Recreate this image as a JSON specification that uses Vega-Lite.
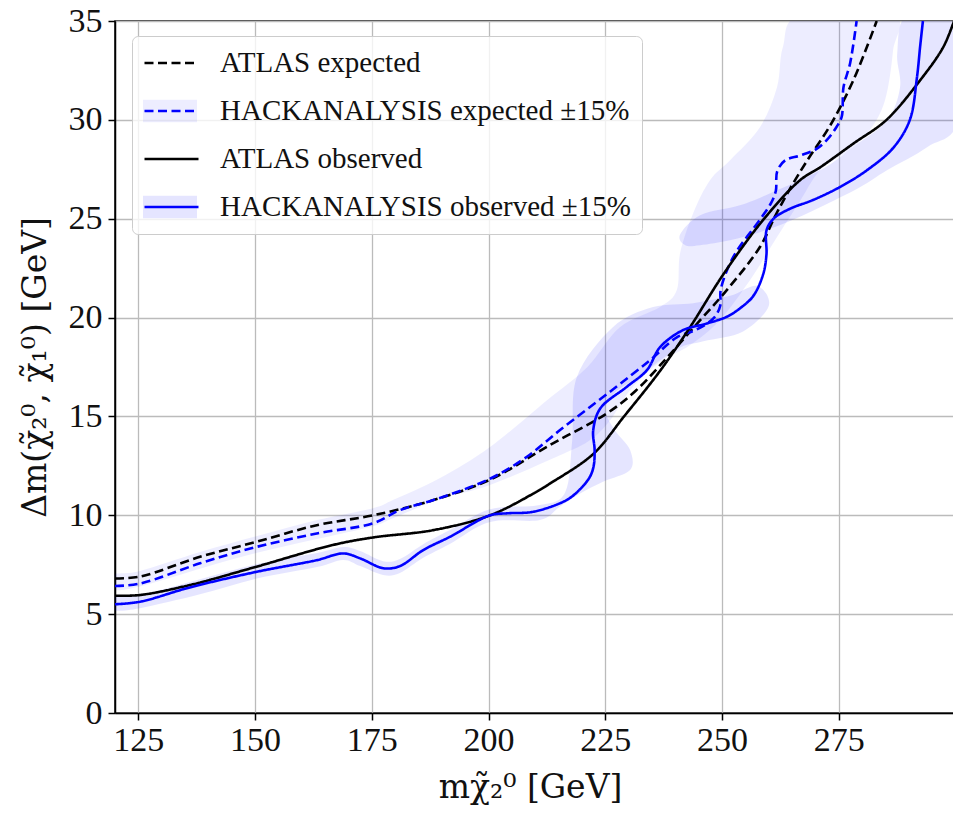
{
  "$schema": "https://vega.github.io/schema/vega-lite/v6.json",
  "width": 840,
  "height": 692,
  "autosize": "none",
  "padding": {"left": 115, "top": 21, "right": 0, "bottom": 110},
  "background": "white",
  "config": {
    "view": {"stroke": "#000", "strokeWidth": 1.5},
    "font": "Liberation Serif",
    "axis": {
      "grid": true, "gridColor": "#bbbbbb", "gridWidth": 1.3,
      "domainColor": "#000", "domainWidth": 1.5,
      "tickColor": "#000", "tickSize": 7, "tickWidth": 1.5,
      "labelFont": "Liberation Serif", "labelFontSize": 34, "labelColor": "#111",
      "titleFont": "DejaVu Serif", "titleFontSize": 33, "titleFontWeight": "normal", "titleColor": "#111",
      "labelFlush": false, "labelOverlap": false
    },
    "legend": {
      "orient": "none", "legendX": 17, "legendY": 15, "padding": 11,
      "labelFont": "Liberation Serif", "labelFontSize": 29, "labelColor": "#111",
      "labelOffset": 20, "rowPadding": 16, "clipHeight": 32, "symbolSize": 2916, "labelLimit": 700
    }
  },
  "datasets": {
    "lines": [
      {"s": "ATLAS expected", "i": 0, "x": 120, "y": 6.8},
      {"s": "ATLAS expected", "i": 1, "x": 125.4, "y": 6.9},
      {"s": "ATLAS expected", "i": 2, "x": 138.2, "y": 7.9},
      {"s": "ATLAS expected", "i": 3, "x": 150.3, "y": 8.66},
      {"s": "ATLAS expected", "i": 4, "x": 163.2, "y": 9.5},
      {"s": "ATLAS expected", "i": 5, "x": 175.3, "y": 10.0},
      {"s": "ATLAS expected", "i": 6, "x": 188.2, "y": 10.77},
      {"s": "ATLAS expected", "i": 7, "x": 200.3, "y": 11.8},
      {"s": "ATLAS expected", "i": 8, "x": 213.1, "y": 13.55},
      {"s": "ATLAS expected", "i": 9, "x": 225.3, "y": 15.15},
      {"s": "ATLAS expected", "i": 10, "x": 231.5, "y": 16.3},
      {"s": "ATLAS expected", "i": 11, "x": 238.5, "y": 18.05},
      {"s": "ATLAS expected", "i": 12, "x": 245.3, "y": 19.87},
      {"s": "ATLAS expected", "i": 13, "x": 251, "y": 21.39},
      {"s": "ATLAS expected", "i": 14, "x": 258.1, "y": 23.57},
      {"s": "ATLAS expected", "i": 15, "x": 261.5, "y": 25.2},
      {"s": "ATLAS expected", "i": 16, "x": 264.5, "y": 26.5},
      {"s": "ATLAS expected", "i": 17, "x": 268.1, "y": 27.9},
      {"s": "ATLAS expected", "i": 18, "x": 273.1, "y": 29.7},
      {"s": "ATLAS expected", "i": 19, "x": 278.1, "y": 32.0},
      {"s": "ATLAS expected", "i": 20, "x": 283.1, "y": 35.0},

      {"s": "HACKANALYSIS expected ±15%", "i": 0, "x": 120, "y": 6.42},
      {"s": "HACKANALYSIS expected ±15%", "i": 1, "x": 125.4, "y": 6.55},
      {"s": "HACKANALYSIS expected ±15%", "i": 2, "x": 138.2, "y": 7.57},
      {"s": "HACKANALYSIS expected ±15%", "i": 3, "x": 150.3, "y": 8.4},
      {"s": "HACKANALYSIS expected ±15%", "i": 4, "x": 163.2, "y": 9.08},
      {"s": "HACKANALYSIS expected ±15%", "i": 5, "x": 175.3, "y": 9.6},
      {"s": "HACKANALYSIS expected ±15%", "i": 6, "x": 181, "y": 10.26},
      {"s": "HACKANALYSIS expected ±15%", "i": 7, "x": 188.2, "y": 10.77},
      {"s": "HACKANALYSIS expected ±15%", "i": 8, "x": 200.3, "y": 11.85},
      {"s": "HACKANALYSIS expected ±15%", "i": 9, "x": 208.2, "y": 12.96},
      {"s": "HACKANALYSIS expected ±15%", "i": 10, "x": 215.3, "y": 14.31},
      {"s": "HACKANALYSIS expected ±15%", "i": 11, "x": 226, "y": 16.25},
      {"s": "HACKANALYSIS expected ±15%", "i": 12, "x": 234.6, "y": 17.85},
      {"s": "HACKANALYSIS expected ±15%", "i": 13, "x": 240.3, "y": 19.0},
      {"s": "HACKANALYSIS expected ±15%", "i": 14, "x": 244.6, "y": 19.4},
      {"s": "HACKANALYSIS expected ±15%", "i": 15, "x": 248.3, "y": 20.0},
      {"s": "HACKANALYSIS expected ±15%", "i": 16, "x": 249.6, "y": 20.6},
      {"s": "HACKANALYSIS expected ±15%", "i": 17, "x": 249.7, "y": 21.4},
      {"s": "HACKANALYSIS expected ±15%", "i": 18, "x": 252.4, "y": 23.07},
      {"s": "HACKANALYSIS expected ±15%", "i": 19, "x": 258.1, "y": 24.95},
      {"s": "HACKANALYSIS expected ±15%", "i": 20, "x": 260.5, "y": 25.8},
      {"s": "HACKANALYSIS expected ±15%", "i": 21, "x": 261.5, "y": 26.4},
      {"s": "HACKANALYSIS expected ±15%", "i": 22, "x": 261.8, "y": 27.4},
      {"s": "HACKANALYSIS expected ±15%", "i": 23, "x": 263.5, "y": 27.95},
      {"s": "HACKANALYSIS expected ±15%", "i": 24, "x": 266.7, "y": 28.2},
      {"s": "HACKANALYSIS expected ±15%", "i": 25, "x": 270, "y": 28.5},
      {"s": "HACKANALYSIS expected ±15%", "i": 26, "x": 272.4, "y": 28.97},
      {"s": "HACKANALYSIS expected ±15%", "i": 27, "x": 274.5, "y": 29.64},
      {"s": "HACKANALYSIS expected ±15%", "i": 28, "x": 275.6, "y": 30.15},
      {"s": "HACKANALYSIS expected ±15%", "i": 29, "x": 276, "y": 31.66},
      {"s": "HACKANALYSIS expected ±15%", "i": 30, "x": 277.4, "y": 32.85},
      {"s": "HACKANALYSIS expected ±15%", "i": 31, "x": 278.8, "y": 35.0},

      {"s": "ATLAS observed", "i": 0, "x": 120, "y": 5.93},
      {"s": "ATLAS observed", "i": 1, "x": 125.4, "y": 5.97},
      {"s": "ATLAS observed", "i": 2, "x": 136, "y": 6.47},
      {"s": "ATLAS observed", "i": 3, "x": 150.3, "y": 7.4},
      {"s": "ATLAS observed", "i": 4, "x": 166.7, "y": 8.5},
      {"s": "ATLAS observed", "i": 5, "x": 175.3, "y": 8.88},
      {"s": "ATLAS observed", "i": 6, "x": 188.2, "y": 9.25},
      {"s": "ATLAS observed", "i": 7, "x": 200.3, "y": 10.0},
      {"s": "ATLAS observed", "i": 8, "x": 209.6, "y": 11.1},
      {"s": "ATLAS observed", "i": 9, "x": 213.1, "y": 11.6},
      {"s": "ATLAS observed", "i": 10, "x": 222.4, "y": 13.1},
      {"s": "ATLAS observed", "i": 11, "x": 229, "y": 15.0},
      {"s": "ATLAS observed", "i": 12, "x": 236.7, "y": 17.3},
      {"s": "ATLAS observed", "i": 13, "x": 243.1, "y": 19.5},
      {"s": "ATLAS observed", "i": 14, "x": 250.3, "y": 22.2},
      {"s": "ATLAS observed", "i": 15, "x": 259, "y": 25.0},
      {"s": "ATLAS observed", "i": 16, "x": 266.7, "y": 26.95},
      {"s": "ATLAS observed", "i": 17, "x": 271, "y": 27.6},
      {"s": "ATLAS observed", "i": 18, "x": 278.1, "y": 28.8},
      {"s": "ATLAS observed", "i": 19, "x": 285.2, "y": 30.0},
      {"s": "ATLAS observed", "i": 20, "x": 292.4, "y": 32.0},
      {"s": "ATLAS observed", "i": 21, "x": 297.4, "y": 33.7},
      {"s": "ATLAS observed", "i": 22, "x": 299.8, "y": 35.1},

      {"s": "HACKANALYSIS observed ±15%", "i": 0, "x": 120, "y": 5.5},
      {"s": "HACKANALYSIS observed ±15%", "i": 1, "x": 125.4, "y": 5.63},
      {"s": "HACKANALYSIS observed ±15%", "i": 2, "x": 136, "y": 6.35},
      {"s": "HACKANALYSIS observed ±15%", "i": 3, "x": 150.3, "y": 7.14},
      {"s": "HACKANALYSIS observed ±15%", "i": 4, "x": 163.2, "y": 7.73},
      {"s": "HACKANALYSIS observed ±15%", "i": 5, "x": 168.9, "y": 8.07},
      {"s": "HACKANALYSIS observed ±15%", "i": 6, "x": 172.5, "y": 7.82},
      {"s": "HACKANALYSIS observed ±15%", "i": 7, "x": 177.5, "y": 7.32},
      {"s": "HACKANALYSIS observed ±15%", "i": 8, "x": 181, "y": 7.43},
      {"s": "HACKANALYSIS observed ±15%", "i": 9, "x": 186, "y": 8.24},
      {"s": "HACKANALYSIS observed ±15%", "i": 10, "x": 191.7, "y": 8.91},
      {"s": "HACKANALYSIS observed ±15%", "i": 11, "x": 200.3, "y": 10.0},
      {"s": "HACKANALYSIS observed ±15%", "i": 12, "x": 204, "y": 10.1},
      {"s": "HACKANALYSIS observed ±15%", "i": 13, "x": 209.6, "y": 10.18},
      {"s": "HACKANALYSIS observed ±15%", "i": 14, "x": 216.7, "y": 10.77},
      {"s": "HACKANALYSIS observed ±15%", "i": 15, "x": 219.5, "y": 11.3},
      {"s": "HACKANALYSIS observed ±15%", "i": 16, "x": 221.7, "y": 11.95},
      {"s": "HACKANALYSIS observed ±15%", "i": 17, "x": 222.5, "y": 12.5},
      {"s": "HACKANALYSIS observed ±15%", "i": 18, "x": 222.7, "y": 13.3},
      {"s": "HACKANALYSIS observed ±15%", "i": 19, "x": 222.4, "y": 14.3},
      {"s": "HACKANALYSIS observed ±15%", "i": 20, "x": 223.9, "y": 15.4},
      {"s": "HACKANALYSIS observed ±15%", "i": 21, "x": 229.6, "y": 16.5},
      {"s": "HACKANALYSIS observed ±15%", "i": 22, "x": 233.9, "y": 17.34},
      {"s": "HACKANALYSIS observed ±15%", "i": 23, "x": 236.7, "y": 18.5},
      {"s": "HACKANALYSIS observed ±15%", "i": 24, "x": 241.5, "y": 19.35},
      {"s": "HACKANALYSIS observed ±15%", "i": 25, "x": 246.7, "y": 19.7},
      {"s": "HACKANALYSIS observed ±15%", "i": 26, "x": 251, "y": 20.04},
      {"s": "HACKANALYSIS observed ±15%", "i": 27, "x": 254, "y": 20.5},
      {"s": "HACKANALYSIS observed ±15%", "i": 28, "x": 256.7, "y": 21.1},
      {"s": "HACKANALYSIS observed ±15%", "i": 29, "x": 258.8, "y": 22.2},
      {"s": "HACKANALYSIS observed ±15%", "i": 30, "x": 259.5, "y": 23.2},
      {"s": "HACKANALYSIS observed ±15%", "i": 31, "x": 259.5, "y": 24.4},
      {"s": "HACKANALYSIS observed ±15%", "i": 32, "x": 261, "y": 25.0},
      {"s": "HACKANALYSIS observed ±15%", "i": 33, "x": 264.5, "y": 25.5},
      {"s": "HACKANALYSIS observed ±15%", "i": 34, "x": 269.5, "y": 25.95},
      {"s": "HACKANALYSIS observed ±15%", "i": 35, "x": 275.2, "y": 26.6},
      {"s": "HACKANALYSIS observed ±15%", "i": 36, "x": 281, "y": 27.45},
      {"s": "HACKANALYSIS observed ±15%", "i": 37, "x": 286.7, "y": 28.6},
      {"s": "HACKANALYSIS observed ±15%", "i": 38, "x": 290.2, "y": 30.0},
      {"s": "HACKANALYSIS observed ±15%", "i": 39, "x": 291.7, "y": 32.1},
      {"s": "HACKANALYSIS observed ±15%", "i": 40, "x": 292.4, "y": 33.7},
      {"s": "HACKANALYSIS observed ±15%", "i": 41, "x": 293, "y": 35.0}
    ],
    "bandE": [
      {"b": "E", "p": "e", "i": 0, "x": 119.5, "y": 6.98},
      {"b": "E", "p": "e", "i": 1, "x": 125.35, "y": 7.18},
      {"b": "E", "p": "e", "i": 2, "x": 138.2, "y": 8.14},
      {"b": "E", "p": "e", "i": 3, "x": 150.4, "y": 8.95},
      {"b": "E", "p": "e", "i": 4, "x": 163.25, "y": 9.76},
      {"b": "E", "p": "e", "i": 5, "x": 175.25, "y": 10.36},
      {"b": "E", "p": "e", "i": 6, "x": 179.5, "y": 10.77},
      {"b": "E", "p": "e", "i": 7, "x": 189.6, "y": 11.88},
      {"b": "E", "p": "e", "i": 8, "x": 200.3, "y": 13.45},
      {"b": "E", "p": "e", "i": 9, "x": 212.5, "y": 15.82},
      {"b": "E", "p": "e", "i": 10, "x": 221.1, "y": 17.49},
      {"b": "E", "p": "e", "i": 11, "x": 228.1, "y": 19.51},
      {"b": "E", "p": "e", "i": 12, "x": 236.7, "y": 20.53},
      {"b": "E", "p": "e", "i": 13, "x": 240.3, "y": 21.39},
      {"b": "E", "p": "e", "i": 14, "x": 241.0, "y": 23.26},
      {"b": "E", "p": "e", "i": 15, "x": 243.8, "y": 25.28},
      {"b": "E", "p": "e", "i": 16, "x": 247.4, "y": 26.95},
      {"b": "E", "p": "e", "i": 17, "x": 251.7, "y": 27.96},
      {"b": "E", "p": "e", "i": 18, "x": 258.1, "y": 29.63},
      {"b": "E", "p": "e", "i": 19, "x": 261.75, "y": 31.65},
      {"b": "E", "p": "e", "i": 20, "x": 263.0, "y": 33.67},
      {"b": "E", "p": "e", "i": 21, "x": 266.7, "y": 35.3},
      {"b": "E", "p": "e", "i": 22, "x": 286.6, "y": 35.3},
      {"b": "E", "p": "e", "i": 23, "x": 286.6, "y": 33.5},
      {"b": "E", "p": "e", "i": 24, "x": 284.9, "y": 31.0},
      {"b": "E", "p": "e", "i": 25, "x": 281.7, "y": 29.5},
      {"b": "E", "p": "e", "i": 26, "x": 277.4, "y": 28.5},
      {"b": "E", "p": "e", "i": 27, "x": 271.0, "y": 27.45},
      {"b": "E", "p": "e", "i": 28, "x": 266.7, "y": 25.9},
      {"b": "E", "p": "e", "i": 29, "x": 261.3, "y": 23.9},
      {"b": "E", "p": "e", "i": 30, "x": 256.0, "y": 21.9},
      {"b": "E", "p": "e", "i": 31, "x": 249.5, "y": 19.87},
      {"b": "E", "p": "e", "i": 32, "x": 243.1, "y": 18.6},
      {"b": "E", "p": "e", "i": 33, "x": 236.7, "y": 17.75},
      {"b": "E", "p": "e", "i": 34, "x": 230.3, "y": 16.33},
      {"b": "E", "p": "e", "i": 35, "x": 226.0, "y": 14.8},
      {"b": "E", "p": "e", "i": 36, "x": 221.7, "y": 13.8},
      {"b": "E", "p": "e", "i": 37, "x": 215.3, "y": 13.04},
      {"b": "E", "p": "e", "i": 38, "x": 200.3, "y": 11.53},
      {"b": "E", "p": "e", "i": 39, "x": 189.6, "y": 10.82},
      {"b": "E", "p": "e", "i": 40, "x": 179.5, "y": 9.85},
      {"b": "E", "p": "e", "i": 41, "x": 175.25, "y": 9.45},
      {"b": "E", "p": "e", "i": 42, "x": 163.25, "y": 8.8},
      {"b": "E", "p": "e", "i": 43, "x": 150.4, "y": 8.1},
      {"b": "E", "p": "e", "i": 44, "x": 138.2, "y": 7.3},
      {"b": "E", "p": "e", "i": 45, "x": 125.35, "y": 6.4},
      {"b": "E", "p": "e", "i": 46, "x": 119.5, "y": 6.25}
    ],
    "bandO": [
      {"b": "O", "p": "o1", "i": 0, "x": 119.5, "y": 5.81},
      {"b": "O", "p": "o1", "i": 1, "x": 125.35, "y": 5.97},
      {"b": "O", "p": "o1", "i": 2, "x": 138.2, "y": 6.77},
      {"b": "O", "p": "o1", "i": 3, "x": 150.4, "y": 7.53},
      {"b": "O", "p": "o1", "i": 4, "x": 163.25, "y": 8.09},
      {"b": "O", "p": "o1", "i": 5, "x": 168.8, "y": 8.39},
      {"b": "O", "p": "o1", "i": 6, "x": 172.5, "y": 8.19},
      {"b": "O", "p": "o1", "i": 7, "x": 177.4, "y": 7.68},
      {"b": "O", "p": "o1", "i": 8, "x": 181.0, "y": 7.79},
      {"b": "O", "p": "o1", "i": 9, "x": 186.0, "y": 8.54},
      {"b": "O", "p": "o1", "i": 10, "x": 191.7, "y": 9.25},
      {"b": "O", "p": "o1", "i": 11, "x": 200.3, "y": 10.31},
      {"b": "O", "p": "o1", "i": 12, "x": 211.0, "y": 10.52},
      {"b": "O", "p": "o1", "i": 13, "x": 216.4, "y": 11.17},
      {"b": "O", "p": "o1", "i": 14, "x": 217.9, "y": 13.8},
      {"b": "O", "p": "o1", "i": 15, "x": 218.9, "y": 16.99},
      {"b": "O", "p": "o1", "i": 16, "x": 226.6, "y": 19.51},
      {"b": "O", "p": "o1", "i": 17, "x": 235.2, "y": 20.53},
      {"b": "O", "p": "o1", "i": 18, "x": 243.8, "y": 20.73},
      {"b": "O", "p": "o1", "i": 19, "x": 251.7, "y": 21.1},
      {"b": "O", "p": "o1", "i": 20, "x": 257.5, "y": 21.6},
      {"b": "O", "p": "o1", "i": 21, "x": 260.0, "y": 20.6},
      {"b": "O", "p": "o1", "i": 22, "x": 254.5, "y": 19.3},
      {"b": "O", "p": "o1", "i": 23, "x": 246.0, "y": 18.8},
      {"b": "O", "p": "o1", "i": 24, "x": 240.3, "y": 18.4},
      {"b": "O", "p": "o1", "i": 25, "x": 232.0, "y": 17.0},
      {"b": "O", "p": "o1", "i": 26, "x": 227.0, "y": 16.2},
      {"b": "O", "p": "o1", "i": 27, "x": 225.0, "y": 15.32},
      {"b": "O", "p": "o1", "i": 28, "x": 227.0, "y": 14.31},
      {"b": "O", "p": "o1", "i": 29, "x": 230.3, "y": 13.3},
      {"b": "O", "p": "o1", "i": 30, "x": 230.3, "y": 12.29},
      {"b": "O", "p": "o1", "i": 31, "x": 224.5, "y": 11.7},
      {"b": "O", "p": "o1", "i": 32, "x": 219.6, "y": 11.1},
      {"b": "O", "p": "o1", "i": 33, "x": 215.3, "y": 10.45},
      {"b": "O", "p": "o1", "i": 34, "x": 211.0, "y": 9.76},
      {"b": "O", "p": "o1", "i": 35, "x": 200.3, "y": 9.66},
      {"b": "O", "p": "o1", "i": 36, "x": 191.7, "y": 8.55},
      {"b": "O", "p": "o1", "i": 37, "x": 186.0, "y": 7.85},
      {"b": "O", "p": "o1", "i": 38, "x": 181.0, "y": 7.08},
      {"b": "O", "p": "o1", "i": 39, "x": 177.4, "y": 6.98},
      {"b": "O", "p": "o1", "i": 40, "x": 172.5, "y": 7.43},
      {"b": "O", "p": "o1", "i": 41, "x": 168.8, "y": 7.74},
      {"b": "O", "p": "o1", "i": 42, "x": 163.25, "y": 7.38},
      {"b": "O", "p": "o1", "i": 43, "x": 150.4, "y": 6.8},
      {"b": "O", "p": "o1", "i": 44, "x": 138.2, "y": 6.0},
      {"b": "O", "p": "o1", "i": 45, "x": 125.35, "y": 5.3},
      {"b": "O", "p": "o1", "i": 46, "x": 119.5, "y": 5.21},
      {"b": "O", "p": "o2", "i": 0, "x": 241.0, "y": 24.2},
      {"b": "O", "p": "o2", "i": 1, "x": 245.3, "y": 25.18},
      {"b": "O", "p": "o2", "i": 2, "x": 253.8, "y": 25.68},
      {"b": "O", "p": "o2", "i": 3, "x": 260.3, "y": 26.29},
      {"b": "O", "p": "o2", "i": 4, "x": 271.0, "y": 27.45},
      {"b": "O", "p": "o2", "i": 5, "x": 278.0, "y": 28.62},
      {"b": "O", "p": "o2", "i": 6, "x": 285.3, "y": 29.98},
      {"b": "O", "p": "o2", "i": 7, "x": 288.1, "y": 31.65},
      {"b": "O", "p": "o2", "i": 8, "x": 287.5, "y": 33.37},
      {"b": "O", "p": "o2", "i": 9, "x": 289.6, "y": 35.3},
      {"b": "O", "p": "o2", "i": 10, "x": 300.5, "y": 35.3},
      {"b": "O", "p": "o2", "i": 11, "x": 300.5, "y": 29.98},
      {"b": "O", "p": "o2", "i": 12, "x": 293.9, "y": 28.62},
      {"b": "O", "p": "o2", "i": 13, "x": 285.3, "y": 27.45},
      {"b": "O", "p": "o2", "i": 14, "x": 279.5, "y": 26.59},
      {"b": "O", "p": "o2", "i": 15, "x": 271.0, "y": 25.58},
      {"b": "O", "p": "o2", "i": 16, "x": 263.9, "y": 24.82},
      {"b": "O", "p": "o2", "i": 17, "x": 258.1, "y": 24.32},
      {"b": "O", "p": "o2", "i": 18, "x": 251.7, "y": 23.91},
      {"b": "O", "p": "o2", "i": 19, "x": 245.3, "y": 23.66},
      {"b": "O", "p": "o2", "i": 20, "x": 242.1, "y": 23.66}
    ]
  },
  "layer": [
    {
      "data": {"name": "bandE"},
      "mark": {"type": "line", "interpolate": "cardinal-closed", "stroke": "transparent", "strokeWidth": 0, "clip": true},
      "encoding": {
        "x": {"field": "x", "type": "quantitative",
          "scale": {"domain": [120, 299.87], "nice": false, "zero": false},
          "axis": {"values": [125, 150, 175, 200, 225, 250, 275], "title": "mχ̃₂⁰ [GeV]",
            "labelPadding": 3, "titleX": 415, "titleY": 74, "titleAlign": "center", "titleBaseline": "middle"}},
        "y": {"field": "y", "type": "quantitative",
          "scale": {"domain": [0, 35], "nice": false, "zero": false},
          "axis": {"values": [0, 5, 10, 15, 20, 25, 30, 35], "title": "Δm(χ̃₂⁰, χ̃₁⁰) [GeV]",
            "labelPadding": 6, "titleAngle": -90, "titleX": -80, "titleY": 346, "titleAlign": "center", "titleBaseline": "middle"}},
        "order": {"field": "i", "type": "quantitative"},
        "detail": {"field": "p", "type": "nominal"},
        "fill": {"field": "b", "type": "nominal",
          "scale": {"domain": ["A", "E", "B", "O"],
            "range": ["rgba(0,0,0,0)", "rgba(0,0,255,0.07)", "rgba(0,0,0,0)", "rgba(0,0,255,0.10)"]},
          "legend": {"title": null, "symbolType": "M-1,-0.42H1V0.42H-1Z", "symbolStrokeWidth": 0, "symbolStrokeColor": "transparent",
            "labelExpr": "' '", "zindex": 2}}
      }
    },
    {
      "data": {"name": "bandO"},
      "mark": {"type": "line", "interpolate": "cardinal-closed", "stroke": "transparent", "strokeWidth": 0, "clip": true},
      "encoding": {
        "x": {"field": "x", "type": "quantitative"},
        "y": {"field": "y", "type": "quantitative"},
        "order": {"field": "i", "type": "quantitative"},
        "detail": {"field": "p", "type": "nominal"},
        "fill": {"field": "b", "type": "nominal"}
      }
    },
    {
      "data": {"name": "lines"},
      "mark": {"type": "line", "interpolate": "catmull-rom", "strokeWidth": 2.6, "clip": true},
      "encoding": {
        "x": {"field": "x", "type": "quantitative"},
        "y": {"field": "y", "type": "quantitative"},
        "order": {"field": "i", "type": "quantitative"},
        "stroke": {"field": "s", "type": "nominal",
          "scale": {"domain": ["ATLAS expected", "HACKANALYSIS expected ±15%", "ATLAS observed", "HACKANALYSIS observed ±15%"],
            "range": ["#000000", "#0000ff", "#000000", "#0000ff"]},
          "legend": {"title": null, "symbolType": "stroke", "symbolStrokeWidth": 2.6, "fillColor": "rgba(255,255,255,0.8)", "strokeColor": "#cccccc", "cornerRadius": 6, "zindex": 1}},
        "strokeDash": {"field": "s", "type": "nominal",
          "scale": {"domain": ["ATLAS expected", "HACKANALYSIS expected ±15%", "ATLAS observed", "HACKANALYSIS observed ±15%"],
            "range": [[9, 4.5], [9, 4.5], [1, 0], [1, 0]]},
          "legend": {"title": null, "symbolType": "stroke", "symbolStrokeWidth": 2.6, "fillColor": "rgba(255,255,255,0.8)", "strokeColor": "#cccccc", "cornerRadius": 6, "zindex": 1}}
      }
    }
  ]
}
